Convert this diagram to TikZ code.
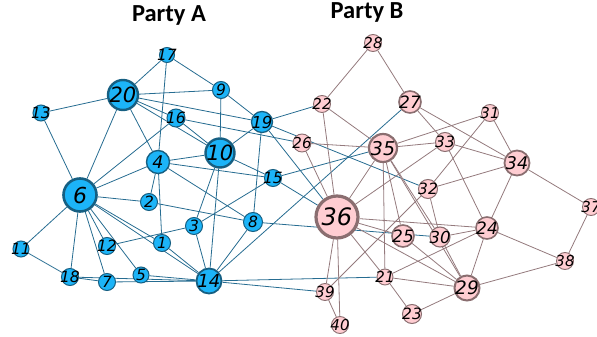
\documentclass[tikz,border=0pt]{standalone}
\usepackage{fontspec}
\newfontfamily\numfont{DejaVu Sans}
\newfontfamily\ttlfont{Carlito}
\usetikzlibrary{backgrounds}
\definecolor{bfill}{RGB}{28,180,248}
\definecolor{bbord}{RGB}{22,95,130}
\definecolor{bedge}{RGB}{38,108,145}
\definecolor{pfill}{RGB}{255,205,210}
\definecolor{pbord}{RGB}{138,110,112}
\definecolor{pedge}{RGB}{148,122,125}
\newcommand\lbl[1]{\makebox[0pt]{\smash{\raisebox{-0.5\height}{#1}}}}
\tikzset{
 bnode/.style={circle,draw=bbord,fill=bfill,inner sep=0pt},
 pnode/.style={circle,draw=pbord,fill=pfill,inner sep=0pt},
 bline/.style={draw=bedge,line width=0.8pt},
 pline/.style={draw=pedge,line width=0.8pt},
 ttl/.style={font=\ttlfont\bfseries\fontsize{24.5}{24.5}\selectfont,inner sep=0pt,anchor=base},
}
\newcommand\vnode[7]{\node[#1,minimum size=#5pt,line width=#7pt,font=\numfont\itshape\fontsize{#6}{#6}\selectfont] (n#2) at (#3,#4) {\lbl{#2}};}
\begin{document}
\begin{tikzpicture}[x=1pt,y=-1pt]
\useasboundingbox (0,0) rectangle (597,337);
\node[ttl] (ta) at (169,22) {Party A};
\node[ttl] (tb) at (367,19) {Party B};
% blue nodes
\vnode{bnode}{17}{167}{55}{15}{15.5}{1}
\vnode{bnode}{20}{123}{95}{30}{21}{2.4}
\vnode{bnode}{9}{221}{90}{17}{15.5}{1}
\vnode{bnode}{13}{41}{113}{16}{15.5}{1}
\vnode{bnode}{16}{176}{118}{18}{15.5}{1}
\vnode{bnode}{19}{262}{122}{21}{16.5}{1.3}
\vnode{bnode}{10}{220}{153}{29}{21}{2.4}
\vnode{bnode}{4}{158}{162}{23}{17.5}{1.4}
\vnode{bnode}{6}{80}{195}{33}{22}{2.6}
\vnode{bnode}{2}{149}{202}{17}{15.5}{1}
\vnode{bnode}{15}{273}{178}{17}{15.5}{1}
\vnode{bnode}{8}{253}{222}{19}{15.5}{1}
\vnode{bnode}{3}{194}{226}{17}{15.5}{1}
\vnode{bnode}{1}{162}{243}{17}{15.5}{1}
\vnode{bnode}{12}{107}{246}{17}{15.5}{1}
\vnode{bnode}{11}{21}{249}{16}{15.5}{1}
\vnode{bnode}{18}{70}{277}{17}{15.5}{1}
\vnode{bnode}{7}{107}{282}{17}{15.5}{1}
\vnode{bnode}{5}{141}{275}{16}{15.5}{1}
\vnode{bnode}{14}{209}{281}{25}{18}{1.8}
% pink nodes
\vnode{pnode}{28}{373}{43}{17}{15}{0.9}
\vnode{pnode}{22}{322}{104}{17}{15}{0.9}
\vnode{pnode}{27}{410}{102}{22}{17}{1.6}
\vnode{pnode}{31}{490}{113}{17}{15}{0.9}
\vnode{pnode}{26}{302}{143}{18}{15}{0.9}
\vnode{pnode}{35}{383}{148}{28}{19}{2.2}
\vnode{pnode}{33}{445}{142}{19}{15.5}{1}
\vnode{pnode}{34}{517}{163}{25}{17.5}{1.8}
\vnode{pnode}{32}{428}{189}{19}{15.5}{1}
\vnode{pnode}{36}{337}{217}{42}{24}{3.2}
\vnode{pnode}{25}{403}{236}{22}{17}{1.6}
\vnode{pnode}{30}{440}{237}{20}{16.5}{1.1}
\vnode{pnode}{24}{487}{228}{22}{17}{1.6}
\vnode{pnode}{37}{591}{207}{17}{15}{0.9}
\vnode{pnode}{38}{565}{261}{17}{15}{0.9}
\vnode{pnode}{21}{385}{277}{16}{15}{0.9}
\vnode{pnode}{29}{467}{288}{25}{18.5}{2}
\vnode{pnode}{39}{325}{292}{17}{15}{0.9}
\vnode{pnode}{23}{412}{314}{19}{15.5}{1}
\vnode{pnode}{40}{340}{325}{17}{15}{0.9}
\begin{pgfonlayer}{background}
\foreach \a/\b in {17/20,17/9,17/4,20/13,20/9,20/6,20/4,20/16,20/19,20/10,
 9/10,9/19,13/6,16/10,16/6,16/26,19/10,19/22,19/32,19/8,19/36,
 4/10,4/6,4/2,4/1,4/8,4/15,10/15,10/14,10/3,
 6/2,6/1,6/12,6/5,6/7,6/18,6/11,6/14,2/8,3/12,3/15,3/14,1/14,
 11/18,18/7,18/14,7/14,5/14,8/14,8/30,15/35,15/36,14/27,14/21,14/39}
 \draw[bline] (n\a) -- (n\b);
\foreach \a/\b in {28/22,28/27,22/35,22/36,27/33,27/34,26/35,26/36,
 35/31,35/33,35/36,35/21,35/25,35/30,35/29,31/34,31/32,33/34,33/36,33/24,
 32/34,32/30,32/39,34/24,34/37,37/38,38/24,38/29,24/36,24/30,24/21,24/29,
 36/25,36/29,36/21,36/39,36/40,25/29,30/29,21/29,21/23,23/29,39/40}
 \draw[pline] (n\a) -- (n\b);
\end{pgfonlayer}
\end{tikzpicture}
\end{document}
